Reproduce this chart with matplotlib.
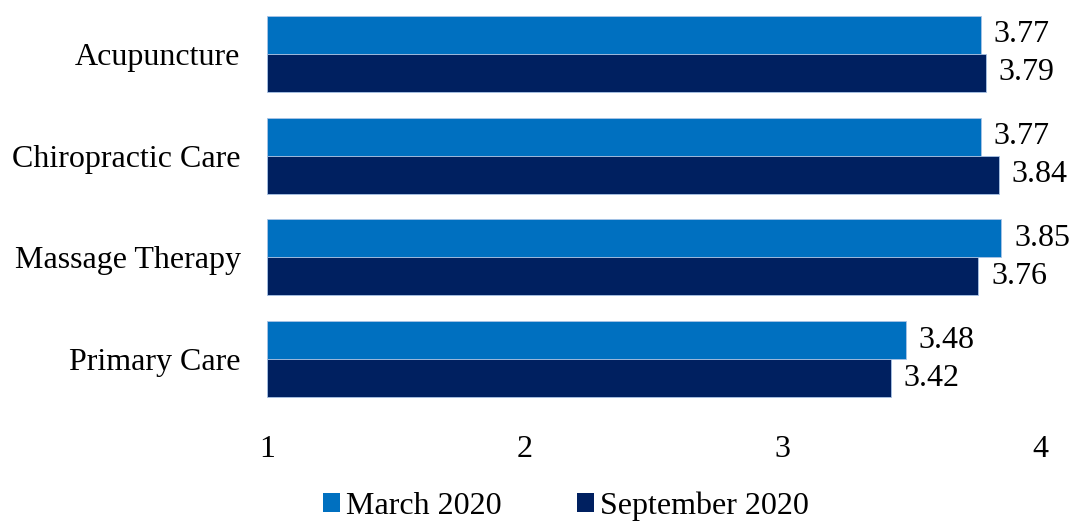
import numpy as np
import matplotlib.pyplot as plt
from matplotlib.patches import Patch

plt.rcParams['font.family'] = ['Liberation Serif', 'DejaVu Serif']

categories = ['Acupuncture', 'Chiropractic Care', 'Massage Therapy', 'Primary Care']
march = [3.77, 3.77, 3.85, 3.48]
september = [3.79, 3.84, 3.76, 3.42]
series_names = ['March 2020', 'September 2020']
colors = ['#0070C0', '#002060']
xticks = [1, 2, 3, 4]

fig = plt.figure(figsize=(10.74, 5.22), dpi=100)
ax = fig.add_axes([0.2486, 0.2146, 0.7197, 0.7797])

y = np.arange(len(categories))
h = 0.373
for vals, off, col in [(march, -h / 2, colors[0]), (september, h / 2, colors[1])]:
    left = 1
    ax.barh(y + off, np.array(vals) - left, height=h, left=left,
            color=col, edgecolor='#A9C4E6', linewidth=0.6)
    for yy, v in zip(y + off, vals):
        ax.text(v + 0.05, yy, f'{v:.2f}', va='center', ha='left', fontsize=23)

ax.set_xlim(1, 4)
ax.set_ylim(len(categories) - 0.5, -0.5)
ax.set_yticks(y)
ax.set_yticklabels(categories, fontsize=23)
ax.set_xticks(xticks)
ax.set_xticklabels([str(t) for t in xticks], fontsize=23)
ax.tick_params(axis='both', length=0)
ax.tick_params(axis='x', pad=18)
ax.tick_params(axis='y', pad=19)
for s in ax.spines.values():
    s.set_visible(False)

handles = [Patch(facecolor=c, edgecolor='none') for c in colors]
fig.legend(handles, series_names, loc='center', bbox_to_anchor=(0.527, 0.03),
           ncol=2, frameon=False, fontsize=23, handlelength=0.52, handleheight=0.52,
           handletextpad=0.2, columnspacing=2.35, borderaxespad=0)

fig.savefig('out.png', dpi=100)
